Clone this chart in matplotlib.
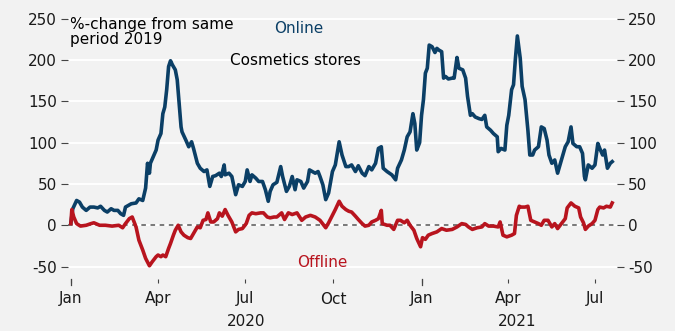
import matplotlib
matplotlib.use("Agg")
import matplotlib.pyplot as plt
import pandas as pd

# ---- data (day offsets from 2020-01-01, %-change vs same period 2019) ----
online_days = [0, 2, 6, 9, 12, 16, 20, 24, 28, 31, 35, 38, 42, 45, 49, 52, 55, 57, 63, 68,
               71, 75, 78, 80, 82, 83, 86, 89, 91, 94, 96, 98, 100, 102, 104, 106, 109, 111,
               113, 115, 116, 120, 123, 126, 128, 132, 135, 139, 142, 145, 148, 151, 155, 157,
               160, 161, 165, 168, 172, 175, 179, 182, 184, 187, 189, 193, 196, 200, 203, 206,
               208, 211, 215, 219, 221, 225, 228, 231, 234, 236, 240, 243, 247, 249, 252, 255,
               258, 260, 263, 266, 269, 273, 276, 280, 283, 287, 290, 293, 297, 300, 304, 307,
               311, 314, 318, 321, 324, 326, 330, 335, 339, 341, 345, 348, 351, 354, 357, 359,
               361, 364, 366, 368, 370, 372, 374, 377, 380, 382, 384, 387, 389, 391, 394, 398,
               400, 403, 405, 409, 412, 414, 417, 419, 422, 426, 429, 432, 434, 438, 441, 445,
               446, 449, 453, 455, 457, 460, 462, 464, 466, 469, 471, 474, 477, 479, 482, 484,
               488, 491, 494, 497, 499, 502, 505, 508, 511, 514, 516, 519, 522, 524, 528, 531,
               534, 536, 537, 540, 544, 547, 550, 552, 555, 557, 560, 563, 565]
online_vals = [3, 20, 30, 28, 22, 18, 22, 22, 21, 23, 18, 16, 20, 18, 18, 14, 12, 22, 26, 27,
               32, 30, 45, 75, 63, 75, 83, 91, 103, 111, 135, 143, 164, 192, 199, 194, 188, 176,
               147, 119, 113, 103, 95, 101, 93, 75, 69, 65, 67, 47, 59, 60, 63, 59,
               73, 61, 63, 59, 37, 49, 47, 53, 67, 53, 61, 57, 53, 53, 43, 29,
               41, 49, 52, 71, 59, 41, 47, 59, 43, 55, 53, 45, 53, 67, 65, 63,
               65, 59, 49, 31, 39, 65, 73, 101, 85, 71, 71, 73, 65, 72, 63, 60,
               71, 67, 75, 93, 95, 69, 65, 61, 55, 69, 79, 91, 107, 113, 135, 123,
               91, 100, 133, 152, 184, 190, 218, 216, 209, 214, 212, 210, 178, 180, 177, 178,
               178, 203, 190, 188, 178, 156, 133, 135, 131, 129, 128, 133, 119, 115, 111, 107,
               89, 93, 91, 121, 133, 164, 170, 202, 229, 202, 168, 152, 115, 85, 85, 91,
               95, 119, 117, 103, 85, 75, 79, 63, 75, 87, 95, 101, 119, 99, 95, 95,
               87, 59, 55, 73, 69, 73, 99, 93, 85, 91, 69, 75, 77]

offline_days = [0, 1, 3, 6, 10, 16, 21, 24, 30, 36, 43, 50, 54, 57, 61, 64, 68, 71, 75, 78,
                82, 85, 89, 91, 94, 96, 99, 102, 104, 107, 109, 112, 115, 118, 122, 125, 128,
                132, 135, 138, 141, 143, 146, 149, 153, 155, 158, 161, 164, 168, 172, 175, 179,
                183, 186, 189, 193, 198, 201, 205, 208, 212, 215, 220, 223, 227, 231, 236, 241,
                245, 250, 255, 260, 266, 269, 273, 276, 280, 283, 287, 290, 293, 297, 300, 304,
                307, 311, 314, 318, 321, 324, 325, 330, 333, 337, 341, 344, 348, 351, 354, 358,
                361, 365, 367, 370, 373, 377, 382, 387, 392, 398, 403, 408, 412, 415, 419, 424,
                429, 432, 436, 441, 446, 448, 451, 455, 460, 463, 465, 468, 470, 474, 477, 480,
                484, 488, 491, 494, 498, 502, 505, 508, 512, 516, 518, 522, 526, 530, 532, 535,
                537, 540, 544, 547, 550, 552, 556, 559, 563, 565]
offline_vals = [2, 19, 10, 2, -1, 0, 2, 3, 0, 0, -1, 0, -3, 2, 8, 10, -2, -18, -30, -40,
                -49, -44, -38, -36, -38, -36, -38, -28, -22, -12, -6, 0, -8, -12, -15, -16, -10,
                -2, -3, 6, 7, 15, 4, 4, 8, 15, 11, 19, 12, 4, -8, -5, -4,
                2, 12, 15, 14, 15, 15, 10, 9, 10, 10, 15, 7, 15, 13, 15, 6,
                10, 12, 10, 6, -3, 3, 12, 19, 29, 23, 19, 17, 16, 11, 7, 2,
                -1, 0, 4, 6, 8, 18, 2, 0, 0, -5, 6, 6, 3, 6, 0, -6,
                -16, -26, -15, -17, -12, -10, -8, -4, -6, -5, -2, 2, 1, -2, -5, -3,
                -2, 2, -1, -1, -2, 4, -12, -14, -12, -10, 12, 23, 22, 22, 23, 6,
                4, 2, 0, 6, 6, -2, 2, -4, 2, 8, 21, 27, 23, 21, 10, 3,
                -5, -1, 2, 6, 19, 22, 21, 23, 22, 27]

month_ticks = ["2020-01-01", "2020-04-01", "2020-07-01", "2020-10-01",
               "2021-01-01", "2021-04-01", "2021-07-01"]
month_labels = ["Jan", "Apr", "Jul", "Oct", "Jan", "Apr", "Jul"]
year_labels = ["2020", "2021"]
y_ticks = [-50, 0, 50, 100, 150, 200, 250]

start = pd.Timestamp("2020-01-01")
online_x = start + pd.to_timedelta(online_days, unit="D")
offline_x = start + pd.to_timedelta(offline_days, unit="D")
end = offline_x.max()

BG = "#f2f2f2"
BLUE = "#0b3f66"
RED = "#b8141e"
TXT = "#1a1a1a"
FS = 11

plt.rcParams["font.family"] = ["DejaVu Sans"]
fig = plt.figure(figsize=(6.75, 3.31), dpi=100, facecolor=BG)
ax = fig.add_axes([68 / 675, 1 - 279 / 331, (617 - 68) / 675, (279 - 12) / 331])
ax.set_facecolor(BG)

ax.set_ylim(-65, 258)
ax.set_xlim(pd.Timestamp("2019-12-29"), pd.Timestamp("2021-07-24"))

for yv in y_ticks:
    ax.axhline(yv, color="white", lw=1.4, zorder=1)
ax.axhline(0, color="#555555", lw=1.1, ls=(0, (3, 3)), zorder=2)

ax.plot(online_x, online_vals, color=BLUE, lw=2.6, zorder=3, solid_joinstyle="round")
ax.plot(offline_x, offline_vals, color=RED, lw=2.6, zorder=3, solid_joinstyle="round")

for s in ax.spines.values():
    s.set_visible(False)

ax.set_yticks(y_ticks)
ax.set_yticklabels([str(v) for v in y_ticks])
ax.tick_params(axis="y", which="both", left=True, right=True, labelleft=True,
               labelright=True, length=5, width=0.8, color="#444444",
               labelsize=FS, labelcolor=TXT, pad=3)

tick_dates = pd.to_datetime(month_ticks)
ax.set_xticks(tick_dates)
ax.set_xticklabels(month_labels)
ax.tick_params(axis="x", length=3, width=0.8, color="#444444", labelsize=FS,
               labelcolor=TXT, pad=6)
# longer ticks at year starts
for d in [pd.Timestamp("2020-01-01"), pd.Timestamp("2021-01-01")]:
    ax.plot([d, d], [-65, -72], color="#444444", lw=0.9, clip_on=False, zorder=4)

# year labels centered on the data span within each year
y2020_mid = pd.Timestamp("2020-01-01") + (pd.Timestamp("2020-12-31") - pd.Timestamp("2020-01-01")) / 2
y2021_mid = pd.Timestamp("2021-01-01") + (end - pd.Timestamp("2021-01-01")) / 2
trans = ax.get_xaxis_transform()
ax.text(y2020_mid, -0.16, year_labels[0], transform=trans, ha="center", va="center",
        fontsize=FS, color=TXT)
ax.text(y2021_mid, -0.16, year_labels[1], transform=trans, ha="center", va="center",
        fontsize=FS, color=TXT)

ax.text(0.003, 0.98, "%-change from same\nperiod 2019", transform=ax.transAxes,
        ha="left", va="top", fontsize=FS, color="black", linespacing=1.0)
ax.text(0.375, 0.965, "Online", transform=ax.transAxes, ha="left", va="top",
        fontsize=FS, color=BLUE)
ax.text(0.295, 0.845, "Cosmetics stores", transform=ax.transAxes, ha="left", va="top",
        fontsize=FS, color="black")
ax.text(0.418, 0.06, "Offline", transform=ax.transAxes, ha="left", va="center",
        fontsize=FS, color=RED)

fig.savefig("out.png", dpi=100, facecolor=BG)
